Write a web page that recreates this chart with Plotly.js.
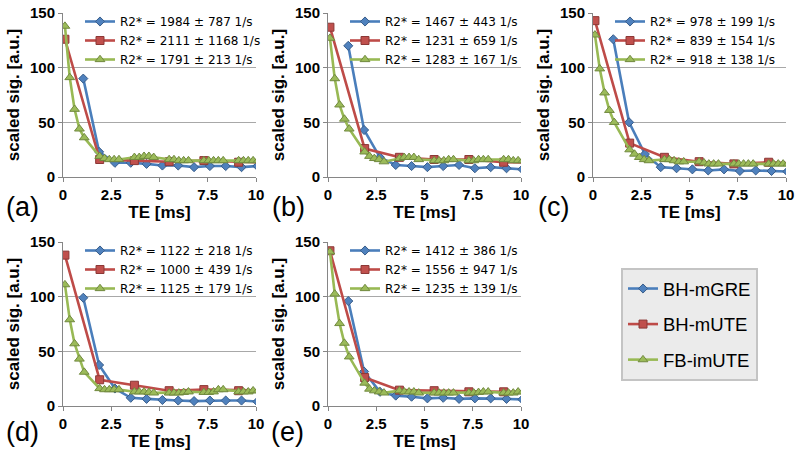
<!DOCTYPE html>
<html><head><meta charset="utf-8">
<script src="https://cdn.plot.ly/plotly-3.0.1.min.js"></script>
<style>html,body{margin:0;padding:0;background:#fff}#chart{width:800px;height:459px}</style>
</head><body><div id="chart"></div>
<script>
// ---- data ----
const seriesNames = ['BH-mGRE', 'BH-mUTE', 'FB-imUTE'];
const panelLabels = ['(a)', '(b)', '(c)', '(d)', '(e)'];

const teGRE = [1.05, 1.87, 2.69, 3.51, 4.33, 5.15, 5.97, 6.79, 7.61, 8.43, 9.25, 10.07];
const teUTE = [0.1, 1.9, 3.7, 5.5, 7.3, 9.1, 10.9];
const teIMUTE = [0.1, 0.35, 0.6, 0.85, 1.1, 1.9, 2.15, 2.4, 2.65, 2.9, 3.7, 3.95, 4.2, 4.45, 4.7,
                 5.5, 5.75, 6.0, 6.25, 6.5, 7.3, 7.55, 7.8, 8.05, 8.3, 9.1, 9.35, 9.6, 9.85, 10.1];

const greA = [90, 23, 13, 13, 12, 10.5, 10.5, 9, 10, 10, 9, 10];
const uteA = [126, 16, 15, 14, 15, 13.5, 13];
const imuteA = [138, 91, 62, 44, 36, 19, 17, 16, 16, 16, 18, 18, 19, 19, 18, 16, 16, 15, 15, 15, 15, 15, 15, 15, 15, 15, 15, 15, 15, 15];

const greB = [120, 43, 18, 11, 10, 9, 10, 11, 8, 9, 8, 7];
const uteB = [137, 26, 18, 16, 16, 13.5, 13];
const imuteB = [127, 90, 66, 53, 44, 23, 19, 17, 16, 14, 17, 18, 18, 18, 16, 15, 15, 15, 16, 16, 15, 15, 16, 16, 16, 16, 16, 15, 15, 15];

const greC = [126, 50, 21, 9, 8, 7, 6, 7, 5.5, 6, 5.5, 5];
const uteC = [143, 31, 18, 14, 12, 13.5, 12];
const imuteC = [130, 99, 77, 61, 50, 25, 21, 18, 16, 15, 16, 16, 15, 14, 14, 14, 13, 12, 12, 12, 12, 12, 12, 12, 12, 12, 12, 12, 12, 12];

const greD = [99, 37.5, 16, 7.5, 6.5, 5.5, 5, 4.5, 5, 5, 5, 4];
const uteD = [138, 24, 19, 14, 15, 14, 14];
const imuteD = [111, 79, 57, 43, 31, 16, 15, 15, 15, 15, 13, 13, 13, 12.5, 12, 12, 12, 12, 12.5, 13, 12.5, 12.5, 13, 15, 15, 13, 13, 13, 14, 14];

const greE = [96, 31.5, 13, 9.5, 8.5, 7, 7.5, 6.5, 7, 7, 6.5, 6];
const uteE = [142, 26, 14.5, 14, 13, 13, 13];
const imuteE = [141, 102.5, 75.5, 57.5, 45, 21, 15.5, 14, 13, 12, 14, 13, 13, 13, 12, 12, 12, 12, 12, 12, 12, 12, 12.5, 13, 13, 12, 12, 12, 13, 13];

const r2A = ['R2* = 1984 ± 787 1/s', 'R2* = 2111 ± 1168 1/s', 'R2* = 1791 ± 213 1/s'];
const r2B = ['R2* = 1467 ± 443 1/s', 'R2* = 1231 ± 659 1/s', 'R2* = 1283 ± 167 1/s'];
const r2C = ['R2* = 978 ± 199 1/s', 'R2* = 839 ± 154 1/s', 'R2* = 918 ± 138 1/s'];
const r2D = ['R2* = 1122 ± 218 1/s', 'R2* = 1000 ± 439 1/s', 'R2* = 1125 ± 179 1/s'];
const r2E = ['R2* = 1412 ± 386 1/s', 'R2* = 1556 ± 947 1/s', 'R2* = 1235 ± 139 1/s'];

const xTitle = 'TE [ms]';
const yTitle = 'scaled sig. [a.u.]';

// ---- styles / layout geometry ----
const W = 800, H = 459;
const FONT = 'Liberation Sans, Arial, sans-serif';
const LEGFONT = 'DejaVu Sans, Liberation Sans, Arial, sans-serif';
const styles = [
  {line: '#4A7EBB', fill: '#4F81BD', edge: '#385D8A', symbol: 'diamond', size: 7},
  {line: '#BE4B48', fill: '#C0504D', edge: '#8C3836', symbol: 'square', size: 8},
  {line: '#98B954', fill: '#9BBB59', edge: '#71893F', symbol: 'triangle-up', size: 8.5}
];
// pixel boxes of each plot area
const boxes = [
  {x0: 63, x1: 256, y0: 13, y1: 177},
  {x0: 328, x1: 521, y0: 13, y1: 177},
  {x0: 593, x1: 786, y0: 13, y1: 177},
  {x0: 63, x1: 256, y0: 242, y1: 406},
  {x0: 328, x1: 521, y0: 242, y1: 406}
];
const labelPos = [[22, 207], [288, 207], [553, 207], [22, 432], [287, 432]];

const panelData = [
  [greA, uteA, imuteA, r2A],
  [greB, uteB, imuteB, r2B],
  [greC, uteC, imuteC, r2C],
  [greD, uteD, imuteD, r2D],
  [greE, uteE, imuteE, r2E]
];
const xs = [teGRE, teUTE, teIMUTE];

const traces = [];
const layout = {
  width: W, height: H,
  margin: {l: 0, r: 0, t: 0, b: 0},
  paper_bgcolor: '#ffffff', plot_bgcolor: '#ffffff',
  font: {family: FONT, color: '#000000'},
  showlegend: true,
  annotations: []
};

panelData.forEach((pd, i) => {
  const n = i === 0 ? '' : String(i + 1);
  const b = boxes[i];
  const legName = 'legend' + (i + 2);
  for (let s = 0; s < 3; s++) {
    traces.push({
      type: 'scatter', mode: 'lines+markers',
      x: xs[s], y: pd[s],
      xaxis: 'x' + n, yaxis: 'y' + n,
      name: pd[3][s],
      legend: legName,
      line: {color: styles[s].line, width: 2.6},
      marker: {symbol: styles[s].symbol, size: styles[s].size, color: styles[s].fill,
               line: {color: styles[s].edge, width: 1}},
      cliponaxis: true,
      hoverinfo: 'skip'
    });
  }
  layout['xaxis' + n] = {
    domain: [b.x0 / W, b.x1 / W], anchor: 'y' + n,
    range: [0, 10], tick0: 0, dtick: 2.5,
    showgrid: false, zeroline: false,
    showline: true, linecolor: '#868686', linewidth: 1,
    ticks: 'outside', ticklen: 4, tickcolor: '#868686',
    tickfont: {family: FONT, size: 15, color: '#000', weight: 'bold'},
    title: {text: xTitle, font: {family: FONT, size: 17, color: '#000', weight: 'bold'}, standoff: 3},
    automargin: false, fixedrange: true
  };
  layout['yaxis' + n] = {
    domain: [1 - b.y1 / H, 1 - b.y0 / H], anchor: 'x' + n,
    range: [0, 150], tick0: 0, dtick: 50,
    showgrid: true, gridcolor: '#a8a8a8', gridwidth: 1,
    zeroline: false,
    showline: true, linecolor: '#868686', linewidth: 1,
    ticks: 'outside', ticklen: 4, tickcolor: '#868686',
    tickfont: {family: FONT, size: 15, color: '#000', weight: 'bold'},
    title: {text: yTitle, font: {family: FONT, size: 17, color: '#000', weight: 'bold'}, standoff: 6},
    automargin: false, fixedrange: true
  };
  layout[legName] = {
    x: (b.x0 + 17) / W, xanchor: 'left',
    y: 1 - (b.y0 - 6) / H, yanchor: 'top',
    bgcolor: 'rgba(0,0,0,0)', borderwidth: 0,
    font: {family: LEGFONT, size: 12, color: '#000'},
    tracegroupgap: 0, traceorder: 'normal'
  };
  layout.annotations.push({
    text: panelLabels[i], xref: 'paper', yref: 'paper',
    x: labelPos[i][0] / W, y: 1 - labelPos[i][1] / H,
    xanchor: 'center', yanchor: 'middle', showarrow: false,
    font: {family: FONT, size: 27, color: '#000'}
  });
});

// main series legend (entries only)
for (let s = 0; s < 3; s++) {
  traces.push({
    type: 'scatter', mode: 'lines+markers',
    x: [null], y: [null], xaxis: 'x', yaxis: 'y',
    name: seriesNames[s], legend: 'legend', legendgroup: 'g' + s,
    line: {color: styles[s].line, width: 2.6},
    marker: {symbol: styles[s].symbol, size: styles[s].size, color: styles[s].fill,
             line: {color: styles[s].edge, width: 1}},
    hoverinfo: 'skip'
  });
}
layout.legend = {
  x: 621 / W, xanchor: 'left', y: 1 - 268 / H, yanchor: 'top',
  bgcolor: '#ebebeb', bordercolor: '#c4c4c4', borderwidth: 2,
  font: {family: FONT, size: 18.5, color: '#000'},
  tracegroupgap: 8.5, traceorder: 'grouped'
};

Plotly.newPlot('chart', traces, layout, {staticPlot: true, displayModeBar: false});
</script></body></html>
